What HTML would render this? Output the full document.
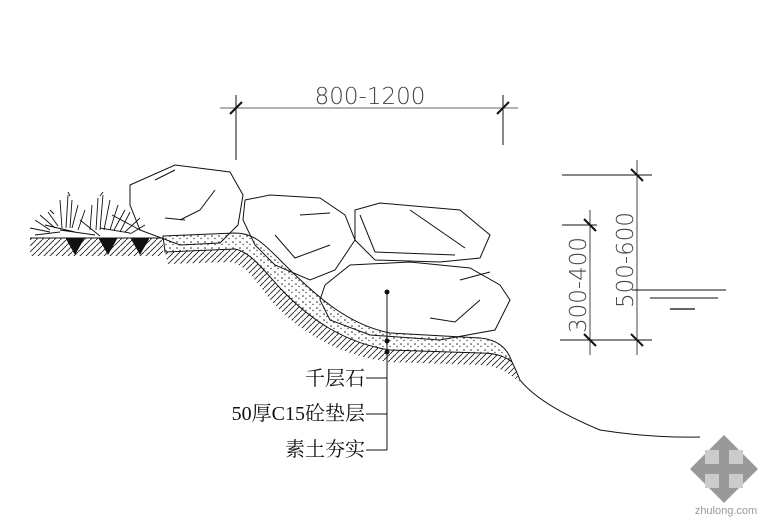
<!DOCTYPE html>
<html><head><meta charset="utf-8"><style>html,body{margin:0;padding:0;background:#fff}svg{display:block}</style></head>
<body>
<svg width="780" height="532" viewBox="0 0 780 532" xmlns="http://www.w3.org/2000/svg">
<defs>
<pattern id="dots" width="7" height="6" patternUnits="userSpaceOnUse">
<rect width="7" height="6" fill="#fff"/><circle cx="2" cy="2" r="0.8" fill="#222"/><circle cx="5" cy="4.5" r="0.7" fill="#444"/>
</pattern>
<pattern id="hatch" width="6" height="6" patternUnits="userSpaceOnUse">
<path d="M0 6 L6 0" stroke="#222" stroke-width="0.9"/>
</pattern>
</defs>
<g stroke="#111" fill="none" stroke-width="1">
<!-- top dimension -->
<line x1="220" y1="108" x2="518" y2="108" stroke="#666"/>
<line x1="236" y1="95" x2="236" y2="160"/>
<line x1="503" y1="95" x2="503" y2="145"/>
<line x1="230" y1="114" x2="242" y2="102" stroke-width="2"/>
<line x1="497" y1="114" x2="509" y2="102" stroke-width="2"/>
<!-- right dimensions -->
<line x1="637" y1="160" x2="637" y2="355" stroke="#444"/>
<line x1="562" y1="175" x2="652" y2="175"/>
<line x1="560" y1="340" x2="652" y2="340"/>
<line x1="590" y1="210" x2="590" y2="355" stroke="#444"/>
<line x1="562" y1="225" x2="597" y2="225"/>
<line x1="631" y1="169" x2="643" y2="181" stroke-width="2"/>
<line x1="631" y1="334" x2="643" y2="346" stroke-width="2"/>
<line x1="584" y1="219" x2="596" y2="231" stroke-width="2"/>
<line x1="584" y1="334" x2="596" y2="346" stroke-width="2"/>
<line x1="632" y1="290" x2="726" y2="290"/>
<line x1="650" y1="298" x2="718" y2="298"/>
<line x1="670" y1="309" x2="695" y2="309" stroke="#666" stroke-width="2"/>
<!-- hatch band -->
<path d="M165 252 L235 249 C250 252 262 268 280 288 C310 320 345 343 390 350 L480 353 C495 353 505 356 512 362 L520 382 L506 372 C495 366 485 365 480 365 L390 362 C340 356 300 332 272 302 C255 280 245 264 230 262 L168 264 Z" fill="url(#hatch)" stroke="none"/>
<!-- concrete -->
<path d="M163 236 L235 233 C255 233 265 245 285 265 C320 300 350 325 390 333 L480 338 C500 340 508 350 512 362 C505 356 495 353 480 353 L390 350 C345 343 310 320 280 288 C262 268 250 252 235 249 L165 252 Z" fill="url(#dots)"/>
<path d="M512 362 Q516 370 520 380 Q540 405 600 430 Q650 438 700 437"/>
<!-- left ground -->
<rect x="30" y="238" width="133" height="18" fill="url(#hatch)" stroke="none"/>
<line x1="30" y1="238" x2="163" y2="238"/>
<path d="M66 238 L84 238 L75 254 Z M99 238 L117 238 L108 254 Z M131 238 L149 238 L140 254 Z" fill="#111"/>
<!-- plants -->
<g stroke-width="0.9">
<path d="M30 228 L50 232 M35 220 L50 230 M40 215 L55 228 M48 212 L58 226 M60 200 L62 228 M68 195 L66 228 M72 200 L70 228 M78 205 L72 228 M85 210 L78 230 M92 205 L90 230 M98 198 L96 230 M103 195 L100 230 M110 200 L104 230 M118 205 L110 230 M125 210 L114 230 M130 212 L120 232 M140 218 L125 232 M145 225 L130 234 M35 235 L60 232 M100 228 L130 233 M60 230 L95 235 M45 225 L75 232 M80 220 L100 236 M112 215 L140 230 M68 192 L70 196 M103 192 L100 196 M50 210 L54 214"/>
</g>
<!-- boulders -->
<path d="M130 185 L175 165 L230 172 L243 195 L238 225 L220 243 L180 245 L140 230 L130 205 Z"/>
<path d="M155 180 L175 170 M180 220 L200 210 L215 190 M165 218 L185 220"/>
<path d="M245 200 L270 195 L320 198 L345 215 L355 240 L335 270 L310 280 L275 265 L255 245 L243 220 Z"/>
<path d="M300 215 L330 213 M275 235 L295 258 L330 245"/>
<path d="M355 210 L380 203 L460 210 L490 235 L480 258 L440 262 L375 260 L355 240 Z"/>
<path d="M360 215 L375 252 L455 255 M410 210 L465 248"/>
<path d="M325 285 L350 265 L410 262 L470 268 L500 285 L510 300 L495 330 L440 340 L370 335 L330 320 L320 300 Z"/>
<path d="M460 280 L490 272 M430 318 L455 322 L480 300"/>
<!-- leader -->
<line x1="387" y1="292" x2="387" y2="450"/>
<line x1="366" y1="378" x2="387" y2="378"/>
<line x1="366" y1="414" x2="387" y2="414"/>
<line x1="366" y1="450" x2="387" y2="450"/>
</g>
<circle cx="387" cy="292" r="2.5" fill="#111"/>
<circle cx="387" cy="341" r="2.5" fill="#111"/>
<circle cx="387" cy="352" r="2.5" fill="#111"/>
<g font-family="'Liberation Serif','Noto Serif CJK SC',serif" font-size="20" fill="#111" text-anchor="end">
<text x="365" y="385">千层石</text>
<text x="365" y="420">50厚C15砼垫层</text>
<text x="365" y="456">素土夯实</text>
</g>
<g font-family="'DejaVu Sans','Liberation Sans',sans-serif" font-size="23" fill="#444" font-weight="200">
<text x="370" y="104" text-anchor="middle">800-1200</text>
<text transform="translate(633 260) rotate(-90)" text-anchor="middle">500-600</text>
<text transform="translate(586 285) rotate(-90)" text-anchor="middle">300-400</text>
</g>
<!-- watermark -->
<g fill="#bbb">
<path d="M724 435 L758 469 L724 503 L690 469 Z" fill="#999"/>
<rect x="705" y="450" width="14" height="14" fill="#ccc"/>
<rect x="729" y="450" width="14" height="14" fill="#ccc"/>
<rect x="705" y="474" width="14" height="14" fill="#ccc"/>
<rect x="729" y="474" width="14" height="14" fill="#ccc"/>
</g>
<text x="726" y="514" font-family="'Liberation Sans',sans-serif" font-size="11" fill="#999" text-anchor="middle">zhulong.com</text>
</svg>
</body></html>
